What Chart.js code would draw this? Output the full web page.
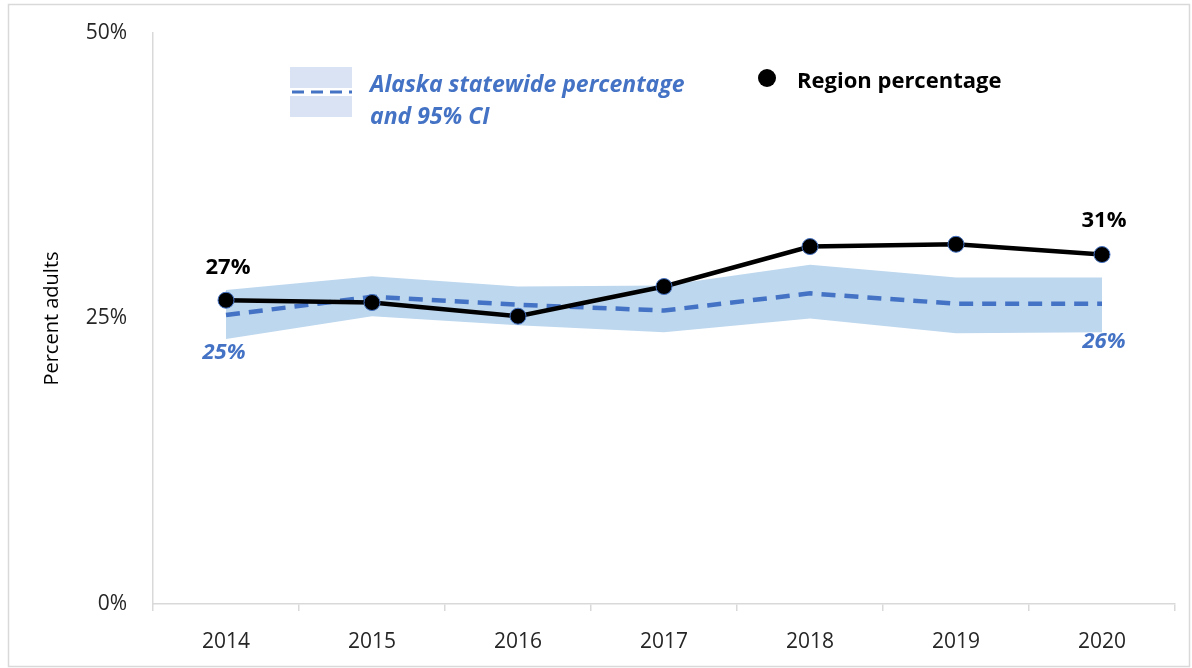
<!DOCTYPE html>
<html>
<head>
<meta charset="utf-8">
<script src="https://cdn.jsdelivr.net/npm/chart.js@4/dist/chart.umd.min.js"></script>
<style>
  html, body { margin: 0; padding: 0; background: #fff; }
  #wrap { width: 1192px; height: 668px; position: relative; }
</style>
</head>
<body>
<div id="wrap"><canvas id="chart" width="1192" height="668"></canvas></div>
<script>
// data set
var years = ['2014', '2015', '2016', '2017', '2018', '2019', '2020'];
var region_pct = [26.6, 26.4, 25.2, 27.8, 31.3, 31.5, 30.6];
var state_pct = [25.3, 26.9, 26.2, 25.7, 27.2, 26.3, 26.3];
var state_upper = [27.5, 28.7, 27.8, 27.9, 29.7, 28.6, 28.6];
var state_lower = [23.2, 25.2, 24.4, 23.8, 25.0, 23.7, 23.8];
var y_ticks = [0, 25, 50];

// colors
const blue = '#4472C4';
const band = '#BDD7EE';
const legendBox = '#DAE3F3';
const font = '"Open Sans", "Liberation Sans", sans-serif';

// frame, legend and end labels
const extras = {
  id: 'extras',
  beforeDraw(chart) {
    const ctx = chart.ctx;
    ctx.save();
    ctx.strokeStyle = '#d9d9d9';
    ctx.lineWidth = 1.5;
    ctx.strokeRect(8.5, 4.5, 1181, 662);
    ctx.restore();
  },
  afterDraw(chart) {
    const ctx = chart.ctx;
    const xs = chart.scales.x, ys = chart.scales.y;
    ctx.save();

    // legend: statewide
    ctx.fillStyle = legendBox;
    ctx.fillRect(290, 67, 62, 21);
    ctx.fillRect(290, 96, 62, 21);
    ctx.strokeStyle = blue;
    ctx.lineWidth = 3;
    ctx.setLineDash([12, 7]);
    ctx.beginPath();
    ctx.moveTo(292, 92);
    ctx.lineTo(352, 92);
    ctx.stroke();
    ctx.setLineDash([]);
    ctx.fillStyle = blue;
    ctx.font = 'italic bold 23px ' + font;
    ctx.textBaseline = 'middle';
    ctx.textAlign = 'left';
    ctx.fillText('Alaska statewide percentage', 370, 85);
    ctx.fillText('and 95% CI', 370, 117);

    // legend: region
    ctx.fillStyle = '#000';
    ctx.beginPath();
    ctx.arc(767, 78, 9, 0, Math.PI * 2);
    ctx.fill();
    ctx.font = 'bold 22px ' + font;
    ctx.fillText('Region percentage', 797, 82);

    // end labels
    const first = 0, last = years.length - 1;
    ctx.textAlign = 'center';
    ctx.font = 'bold 22px ' + font;
    ctx.fillStyle = '#000';
    ctx.fillText(Math.round(region_pct[first]) + '%', xs.getPixelForValue(first) + 2, ys.getPixelForValue(region_pct[first]) - 32);
    ctx.fillText(Math.round(region_pct[last]) + '%', xs.getPixelForValue(last) + 2, ys.getPixelForValue(region_pct[last]) - 34);
    ctx.font = 'italic bold 22px ' + font;
    ctx.fillStyle = blue;
    ctx.fillText(Math.round(state_pct[first]) + '%', xs.getPixelForValue(first) - 2, ys.getPixelForValue(state_pct[first]) + 38);
    ctx.fillText(Math.round(state_pct[last]) + '%', xs.getPixelForValue(last) + 2, ys.getPixelForValue(state_pct[last]) + 38);
    ctx.restore();
  }
};

new Chart('chart', {
  type: 'line',
  data: {
    labels: years,
    datasets: [
      {
        label: 'Region percentage',
        data: region_pct,
        borderColor: '#000',
        borderWidth: 4.5,
        pointRadius: 8,
        pointBackgroundColor: '#000',
        pointBorderColor: blue,
        pointBorderWidth: 1,
        tension: 0,
        order: 0
      },
      {
        label: 'Alaska statewide percentage',
        data: state_pct,
        borderColor: blue,
        borderWidth: 4.5,
        borderDash: [14, 9],
        pointRadius: 0,
        tension: 0,
        order: 1
      },
      {
        label: 'CI upper',
        data: state_upper,
        borderWidth: 0,
        borderColor: 'rgba(0,0,0,0)',
        backgroundColor: band,
        pointRadius: 0,
        fill: '+1',
        tension: 0,
        order: 2
      },
      {
        label: 'CI lower',
        data: state_lower,
        borderWidth: 0,
        borderColor: 'rgba(0,0,0,0)',
        pointRadius: 0,
        fill: false,
        tension: 0,
        order: 3
      }
    ]
  },
  options: {
    responsive: false,
    animation: false,
    layout: { padding: { top: 33, right: 17, left: 40, bottom: 0 } },
    plugins: {
      legend: { display: false },
      tooltip: { enabled: false }
    },
    scales: {
      x: {
        offset: true,
        grid: { offset: true, drawOnChartArea: false, tickLength: 7, color: '#d9d9d9', lineWidth: 1.5 },
        border: { color: '#d9d9d9', width: 1.5 },
        ticks: { color: '#262626', font: { family: font, size: 21 }, padding: 18 },
        afterFit: function (scale) { scale.height = 64; scale.paddingLeft = 0; scale.paddingRight = 0; }
      },
      y: {
        min: 0,
        max: 50,
        afterBuildTicks: function (scale) { scale.ticks = y_ticks.map(v => ({ value: v })); },
        grid: { drawOnChartArea: false, drawTicks: false },
        border: { color: '#d9d9d9', width: 1.5 },
        ticks: {
          color: '#262626',
          font: { family: font, size: 21 },
          padding: 26,
          callback: v => v + '%'
        },
        title: {
          display: true,
          text: 'Percent adults',
          color: '#000',
          font: { family: font, size: 20 },
          padding: 0
        },
        afterFit: function (scale) { scale.width = 113; scale.paddingTop = 0; scale.paddingBottom = 0; }
      }
    }
  },
  plugins: [extras]
});
</script>
</body>
</html>
